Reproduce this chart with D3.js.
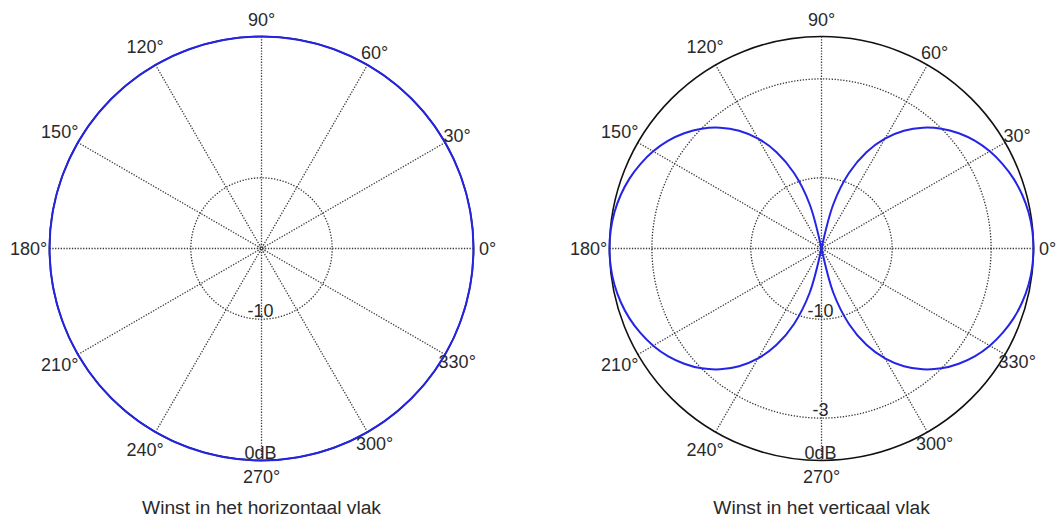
<!DOCTYPE html>
<html>
<head>
<meta charset="utf-8">
<script src="https://cdn.jsdelivr.net/npm/d3@7"></script>
<style>
  html, body { margin: 0; padding: 0; background: #fff; }
  svg { display: block; }
  text { font-family: "Liberation Sans", Arial, sans-serif; fill: #2a2a2a; }
</style>
</head>
<body>
<svg id="chart" width="1059" height="519"></svg>
<script>
// Radiation pattern of the antenna, gain in dB versus angle (degrees).
const horizontalAngles = [0, 10, 20, 30, 40, 50, 60, 70, 80, 90, 100, 110, 120, 130, 140, 150, 160, 170,
  180, 190, 200, 210, 220, 230, 240, 250, 260, 270, 280, 290, 300, 310, 320, 330, 340, 350];
const horizontalGain = [0, 0, 0, 0, 0, 0, 0, 0, 0, 0, 0, 0, 0, 0, 0, 0, 0, 0,
  0, 0, 0, 0, 0, 0, 0, 0, 0, 0, 0, 0, 0, 0, 0, 0, 0, 0];

const verticalAngles = [0, 5, 10, 15, 20, 25, 30, 35, 40, 45, 50, 55, 60, 65, 70, 75, 80, 85,
  90, 95, 100, 105, 110, 115, 120, 125, 130, 135, 140, 145, 150, 155, 160, 165, 170, 175,
  180, 185, 190, 195, 200, 205, 210, 215, 220, 225, 230, 235, 240, 245, 250, 255, 260, 265,
  270, 275, 280, 285, 290, 295, 300, 305, 310, 315, 320, 325, 330, 335, 340, 345, 350, 355, 360];
const verticalGain = [0, -0.03, -0.13, -0.30, -0.54, -0.86, -1.25, -1.73, -2.32, -3.01, -3.84, -4.83, -6.02, -7.48, -9.32, -11.74, -15, -15,
  -15, -15, -15, -11.74, -9.32, -7.48, -6.02, -4.83, -3.84, -3.01, -2.32, -1.73, -1.25, -0.86, -0.54, -0.30, -0.13, -0.03,
  0, -0.03, -0.13, -0.30, -0.54, -0.86, -1.25, -1.73, -2.32, -3.01, -3.84, -4.83, -6.02, -7.48, -9.32, -11.74, -15, -15,
  -15, -15, -15, -11.74, -9.32, -7.48, -6.02, -4.83, -3.84, -3.01, -2.32, -1.73, -1.25, -0.86, -0.54, -0.30, -0.13, -0.03, 0];

// Grid: spokes every 30 degrees, angle labels, rings per plot.
const spokeAngles = [0, 30, 60, 90, 120, 150];
const angleLabels = [0, 30, 60, 90, 120, 150, 180, 210, 240, 270, 300, 330];
const horizontalRings = [-10];
const horizontalRingLabels = ["-10", "0dB"];
const verticalRings = [-10, -3];
const verticalRingLabels = ["-10", "-3", "0dB"];
const dbDomain = [-15, 0];

const titles = ["Winst in het horizontaal vlak", "Winst in het verticaal vlak"];

const svg = d3.select("#chart");
const R = 212;
const toRad = d => d * Math.PI / 180;

// label distance from the centre: a little further out on the left side
function labelRadius(a) {
  const c = Math.cos(toRad(a));
  if (Math.abs(c) < 0.01) return 228.5;
  return c > 0 ? 226 : 233;
}

function drawPolar(cx, cy, rings, ringLabels, angles, gains, closed, title) {
  const g = svg.append("g").attr("transform", `translate(${cx},${cy})`);
  const r = d3.scaleLinear().domain(dbDomain).range([0, R]);

  // spokes through the centre
  g.selectAll("line.spoke").data(spokeAngles).join("line")
    .attr("class", "spoke")
    .attr("x1", a => -R * Math.cos(toRad(a)))
    .attr("y1", a => R * Math.sin(toRad(a)))
    .attr("x2", a => R * Math.cos(toRad(a)))
    .attr("y2", a => -R * Math.sin(toRad(a)))
    .attr("stroke", "#3a3a3a")
    .attr("stroke-width", 1.3)
    .attr("stroke-dasharray", "1.3,1.5");

  // inner dB rings
  g.selectAll("circle.ring").data(rings).join("circle")
    .attr("class", "ring")
    .attr("r", d => r(d))
    .attr("fill", "none")
    .attr("stroke", "#333")
    .attr("stroke-width", 1.3)
    .attr("stroke-dasharray", "1.3,1.6");

  // small marker ring at the centre
  g.append("circle")
    .attr("r", 3.5)
    .attr("fill", "none")
    .attr("stroke", "#555")
    .attr("stroke-width", 1)
    .attr("stroke-dasharray", "1,1");

  // outer 0 dB ring
  g.append("circle")
    .attr("r", r(0))
    .attr("fill", "none")
    .attr("stroke", "#111")
    .attr("stroke-width", 1.6);

  // gain curve
  const pts = angles.map((a, i) => [a, gains[i]]);
  const line = d3.lineRadial()
    .angle(d => toRad(90 - d[0]))
    .radius(d => r(d[1]))
    .curve(closed ? d3.curveCatmullRomClosed : d3.curveCatmullRom.alpha(0.5));
  g.append("path")
    .datum(pts)
    .attr("d", line)
    .attr("fill", "none")
    .attr("stroke", "#2424e6")
    .attr("stroke-width", 2);

  // ring labels along the 270 degree spoke
  const ringValues = rings.concat([0]);
  g.selectAll("text.rlabel").data(ringValues).join("text")
    .attr("class", "rlabel")
    .attr("x", -1)
    .attr("y", d => r(d) - 2)
    .attr("text-anchor", "middle")
    .attr("font-size", 18)
    .text((d, i) => ringLabels[i]);

  // angle labels
  g.selectAll("text.alabel").data(angleLabels).join("text")
    .attr("class", "alabel")
    .attr("x", a => labelRadius(a) * Math.cos(toRad(a)))
    .attr("y", a => -labelRadius(a) * Math.sin(toRad(a)))
    .attr("text-anchor", "middle")
    .attr("dominant-baseline", "central")
    .attr("font-size", 18)
    .text(a => a + "\u00B0");

  // title
  g.append("text")
    .attr("x", 0)
    .attr("y", 265)
    .attr("text-anchor", "middle")
    .attr("font-size", 19.2)
    .text(title);
}

drawPolar(261.5, 248.5, horizontalRings, horizontalRingLabels, horizontalAngles, horizontalGain, true, titles[0]);
drawPolar(821.5, 248.5, verticalRings, verticalRingLabels, verticalAngles, verticalGain, false, titles[1]);
</script>
</body>
</html>
